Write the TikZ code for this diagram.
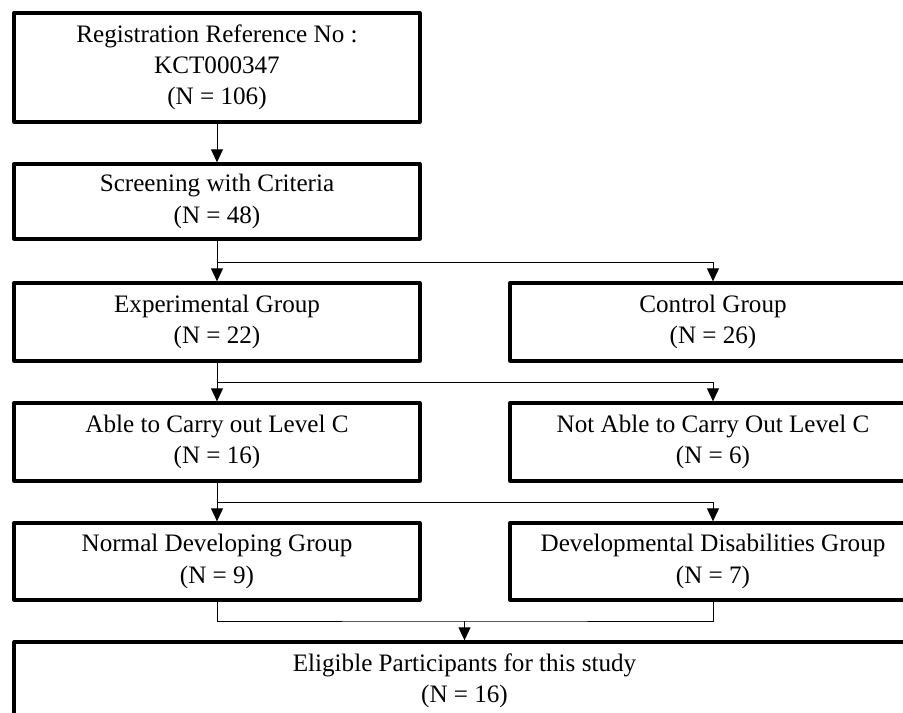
\documentclass[tikz,border=0pt]{standalone}
\usepackage{fontspec}
\setmainfont{Liberation Serif}
\usetikzlibrary{arrows.meta}

\begin{document}
\begin{tikzpicture}[x=0.02cm,y=-0.02cm,
  box/.style={draw,line width=1.9pt,line join=round,inner sep=0pt,
    minimum width=8.12cm,minimum height=1.56cm,align=center,
    font=\fontsize{14.3pt}{17.8pt}\selectfont},
  arr/.style={line width=0.55pt,-{Triangle[width=6.8pt,length=7.4pt]}},
  link/.style={line width=0.55pt}]

\useasboundingbox (0,0) rectangle (903,713);
\clip (0,0) rectangle (903,713);

\node[box,minimum height=2.18cm] (reg) at (217,67.5) {Registration Reference No :\\KCT000347\\(N = 106)};
\node[box,minimum height=1.5cm] (screen) at (217,201.5) {Screening with Criteria\\(N = 48)};

\node[box] (exp) at (217,322) {Experimental Group\\(N = 22)};
\node[box] (ctrl) at (713,322) {Control Group\\(N = 26)};

\node[box] (able) at (217,442) {Able to Carry out Level C\\(N = 16)};
\node[box] (notable) at (713,442) {Not Able to Carry Out Level C\\(N = 6)};

\node[box,minimum height=1.54cm] (normal) at (217,561.5) {Normal Developing Group\\(N = 9)};
\node[box,minimum height=1.54cm] (disab) at (713,561.5) {Developmental Disabilities Group\\(N = 7)};

\node[box,minimum width=18.02cm] (elig) at (464.5,681) {Eligible Participants for this study\\(N = 16)};

\coordinate (j1) at (217,262);
\coordinate (j2) at (217,382);
\coordinate (j3) at (217,502);
\coordinate (j4) at (464.5,621);

\draw[arr] (reg) -- (screen);

\draw[arr] (screen) -- (exp);
\draw[arr] (j1) -| (ctrl);

\draw[arr] (exp) -- (able);
\draw[arr] (j2) -| (notable);

\draw[arr] (able) -- (normal);
\draw[arr] (j3) -| (disab);

\draw[link] (normal) |- (j4) -| (disab);
\draw[arr] (j4) -- (elig);

\end{tikzpicture}
\end{document}
